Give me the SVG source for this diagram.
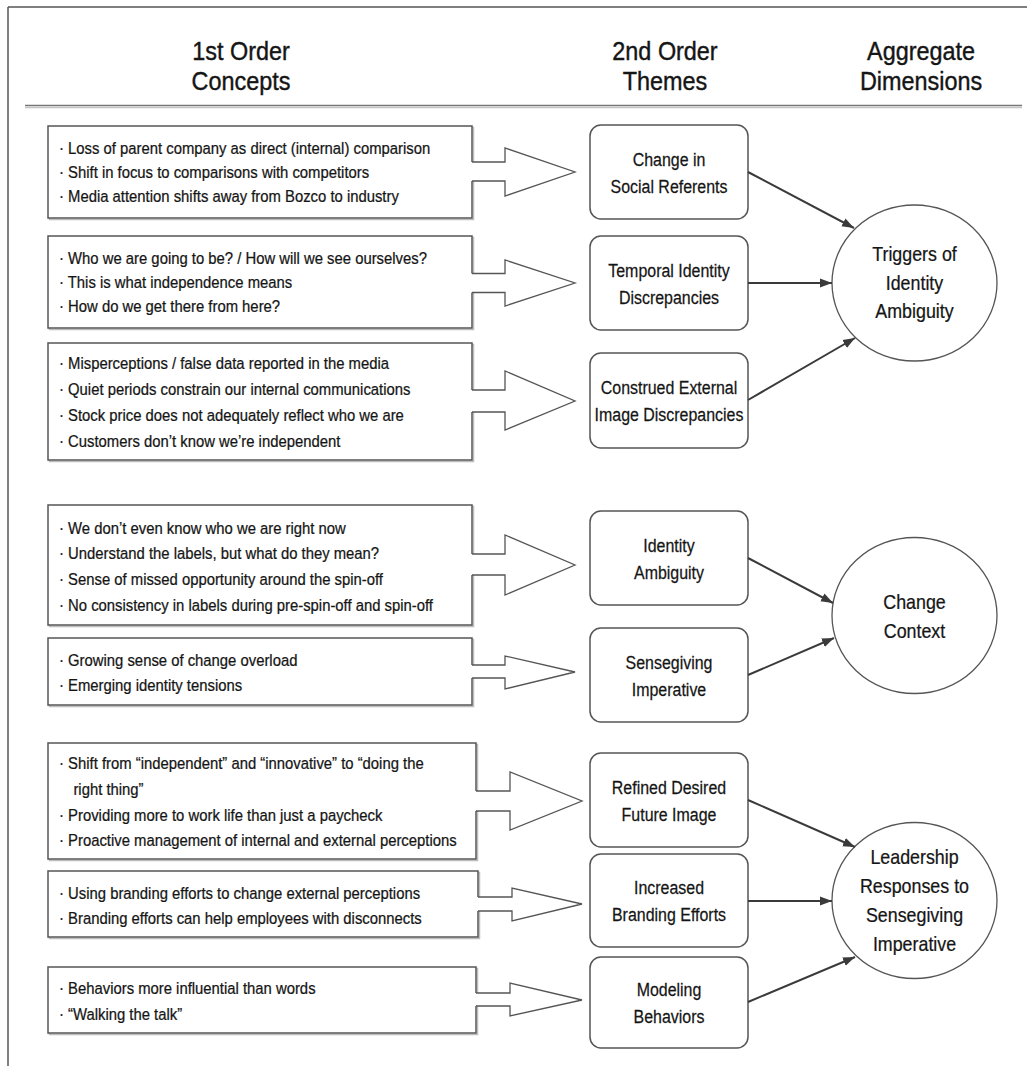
<svg xmlns="http://www.w3.org/2000/svg" width="1027" height="1066" viewBox="0 0 1027 1066">
<defs>
<style>
.frame{stroke:#555;stroke-width:1.5;fill:none}
.hsep{stroke:#777;stroke-width:1.5;fill:none}
.hsep2{stroke:#c4c4c4;stroke-width:1.5;fill:none}
.box{fill:#fff;stroke:#555;stroke-width:1.5}
.shd{fill:none;stroke:#bdbdbd;stroke-width:1.5}
.theme{fill:#fff;stroke:#555;stroke-width:1.5}
.ell{fill:#fff;stroke:#555;stroke-width:1.3}
.afill{fill:#fff;stroke:none}
.aline{fill:none;stroke:#555;stroke-width:1.3;stroke-linejoin:miter}
.cn{fill:none;stroke:#3a3a3a;stroke-width:2;marker-end:url(#ah)}
text{font-family:"Liberation Sans",Arial,sans-serif;fill:#151515;stroke:#151515;stroke-width:0.25}
.ht{font-size:26px;text-anchor:middle;stroke-width:0.4}
.bt{font-size:16.5px}
.tt{font-size:19px;text-anchor:middle}
.et{font-size:21px;text-anchor:middle}
</style>
<marker id="ah" viewBox="0 0 12 10" refX="12" refY="5" markerWidth="12" markerHeight="10" markerUnits="userSpaceOnUse" orient="auto">
<path d="M0,0.5 L12,5 L0,9.5 z" fill="#3a3a3a"/>
</marker>
</defs>
<rect width="1027" height="1066" fill="#fff"/>

<g id="frame">
<line class="frame" x1="8" y1="7" x2="1027" y2="7"/>
<line class="frame" x1="8" y1="7" x2="8" y2="1066"/>
<line class="hsep" x1="25" y1="105.5" x2="1022" y2="105.5"/>
<line class="hsep2" x1="25" y1="107.5" x2="1022" y2="107.5"/>
</g>

<g id="headers">
<text class="ht" transform="translate(241 0) scale(0.9 1)"><tspan x="0" y="60">1st Order</tspan><tspan x="0" y="90">Concepts</tspan></text>
<text class="ht" transform="translate(665 0) scale(0.9 1)"><tspan x="0" y="60">2nd Order</tspan><tspan x="0" y="90">Themes</tspan></text>
<text class="ht" transform="translate(921 0) scale(0.9 1)"><tspan x="0" y="60">Aggregate</tspan><tspan x="0" y="90">Dimensions</tspan></text>
</g>

<g id="concepts1">
<rect class="shd" x="49.5" y="127.5" width="424" height="92"/>
<rect class="box" x="48" y="126" width="424" height="92"/>
<text class="bt" transform="translate(59 0) scale(0.9 1)"><tspan x="0" y="154">· Loss of parent company as direct (internal) comparison</tspan><tspan x="0" y="178">· Shift in focus to comparisons with competitors</tspan><tspan x="0" y="202">· Media attention shifts away from Bozco to industry</tspan></text>
</g>
<g id="concepts2">
<rect class="shd" x="49.5" y="237.5" width="424" height="92"/>
<rect class="box" x="48" y="236" width="424" height="92"/>
<text class="bt" transform="translate(59 0) scale(0.9 1)"><tspan x="0" y="264">· Who we are going to be? / How will we see ourselves?</tspan><tspan x="0" y="288">· This is what independence means</tspan><tspan x="0" y="312">· How do we get there from here?</tspan></text>
</g>
<g id="concepts3">
<rect class="shd" x="49.5" y="344.5" width="424" height="117"/>
<rect class="box" x="48" y="343" width="424" height="117"/>
<text class="bt" transform="translate(59 0) scale(0.9 1)"><tspan x="0" y="369">· Misperceptions / false data reported in the media</tspan><tspan x="0" y="395">· Quiet periods constrain our internal communications</tspan><tspan x="0" y="421">· Stock price does not adequately reflect who we are</tspan><tspan x="0" y="447">· Customers don’t know we’re independent</tspan></text>
</g>
<g id="concepts4">
<rect class="shd" x="49.5" y="506.5" width="424" height="120"/>
<rect class="box" x="48" y="505" width="424" height="120"/>
<text class="bt" transform="translate(59 0) scale(0.9 1)"><tspan x="0" y="534">· We don’t even know who we are right now</tspan><tspan x="0" y="559">· Understand the labels, but what do they mean?</tspan><tspan x="0" y="585">· Sense of missed opportunity around the spin-off</tspan><tspan x="0" y="611">· No consistency in labels during pre-spin-off and spin-off</tspan></text>
</g>
<g id="concepts5">
<rect class="shd" x="49.5" y="639.5" width="424" height="67"/>
<rect class="box" x="48" y="638" width="424" height="67"/>
<text class="bt" transform="translate(59 0) scale(0.9 1)"><tspan x="0" y="666">· Growing sense of change overload</tspan><tspan x="0" y="691">· Emerging identity tensions</tspan></text>
</g>
<g id="concepts6">
<rect class="shd" x="49.5" y="744.5" width="428" height="116"/>
<rect class="box" x="48" y="743" width="428" height="116"/>
<text class="bt" transform="translate(59 0) scale(0.9 1)"><tspan x="0" y="769">· Shift from “independent” and “innovative” to “doing the</tspan><tspan x="16" y="795">right thing”</tspan><tspan x="0" y="821">· Providing more to work life than just a paycheck</tspan><tspan x="0" y="846">· Proactive management of internal and external perceptions</tspan></text>
</g>
<g id="concepts7">
<rect class="shd" x="49.5" y="872.5" width="430" height="66"/>
<rect class="box" x="48" y="871" width="430" height="66"/>
<text class="bt" transform="translate(59 0) scale(0.9 1)"><tspan x="0" y="899">· Using branding efforts to change external perceptions</tspan><tspan x="0" y="924">· Branding efforts can help employees with disconnects</tspan></text>
</g>
<g id="concepts8">
<rect class="shd" x="49.5" y="968.5" width="428" height="66"/>
<rect class="box" x="48" y="967" width="428" height="66"/>
<text class="bt" transform="translate(59 0) scale(0.9 1)"><tspan x="0" y="994">· Behaviors more influential than words</tspan><tspan x="0" y="1020">· “Walking the talk”</tspan></text>
</g>

<g id="theme1">
<rect class="theme" x="590" y="125" width="158" height="94" rx="11"/>
<text class="tt" transform="translate(669 0) scale(0.84 1)"><tspan x="0" y="166">Change in</tspan><tspan x="0" y="193">Social Referents</tspan></text>
</g>
<g id="theme2">
<rect class="theme" x="590" y="236" width="158" height="94" rx="11"/>
<text class="tt" transform="translate(669 0) scale(0.84 1)"><tspan x="0" y="277">Temporal Identity</tspan><tspan x="0" y="304">Discrepancies</tspan></text>
</g>
<g id="theme3">
<rect class="theme" x="590" y="353" width="158" height="95" rx="11"/>
<text class="tt" transform="translate(669 0) scale(0.84 1)"><tspan x="0" y="394">Construed External</tspan><tspan x="0" y="421">Image Discrepancies</tspan></text>
</g>
<g id="theme4">
<rect class="theme" x="590" y="511" width="158" height="94" rx="11"/>
<text class="tt" transform="translate(669 0) scale(0.84 1)"><tspan x="0" y="552">Identity</tspan><tspan x="0" y="579">Ambiguity</tspan></text>
</g>
<g id="theme5">
<rect class="theme" x="590" y="628" width="158" height="94" rx="11"/>
<text class="tt" transform="translate(669 0) scale(0.84 1)"><tspan x="0" y="669">Sensegiving</tspan><tspan x="0" y="696">Imperative</tspan></text>
</g>
<g id="theme6">
<rect class="theme" x="590" y="753" width="158" height="94" rx="11"/>
<text class="tt" transform="translate(669 0) scale(0.84 1)"><tspan x="0" y="794">Refined Desired</tspan><tspan x="0" y="821">Future Image</tspan></text>
</g>
<g id="theme7">
<rect class="theme" x="590" y="854" width="158" height="93" rx="11"/>
<text class="tt" transform="translate(669 0) scale(0.84 1)"><tspan x="0" y="894">Increased</tspan><tspan x="0" y="921">Branding Efforts</tspan></text>
</g>
<g id="theme8">
<rect class="theme" x="590" y="957" width="158" height="91" rx="11"/>
<text class="tt" transform="translate(669 0) scale(0.84 1)"><tspan x="0" y="996">Modeling</tspan><tspan x="0" y="1023">Behaviors</tspan></text>
</g>

<g id="dim1">
<ellipse class="ell" cx="914.5" cy="283" rx="82.5" ry="78"/>
<text class="et" transform="translate(914.5 0) scale(0.85 1)"><tspan x="0" y="261">Triggers of</tspan><tspan x="0" y="290">Identity</tspan><tspan x="0" y="318.5">Ambiguity</tspan></text>
</g>
<g id="dim2">
<ellipse class="ell" cx="914.5" cy="615.5" rx="82.5" ry="78"/>
<text class="et" transform="translate(914.5 0) scale(0.85 1)"><tspan x="0" y="609">Change</tspan><tspan x="0" y="638">Context</tspan></text>
</g>
<g id="dim3">
<ellipse class="ell" cx="914.5" cy="900.5" rx="82.5" ry="78"/>
<text class="et" transform="translate(914.5 0) scale(0.85 1)"><tspan x="0" y="864">Leadership</tspan><tspan x="0" y="893">Responses to</tspan><tspan x="0" y="922">Sensegiving</tspan><tspan x="0" y="951">Imperative</tspan></text>
</g>

<g id="connectors">
<polygon class="afill" points="470,162 505,162 505,148 575,172 505,196 505,181 470,181"/>
<polyline class="aline" points="472,162 505,162 505,148 575,172 505,196 505,181 472,181"/>
<polygon class="afill" points="470,273.5 505,273.5 505,260 575,283 505,306 505,292.5 470,292.5"/>
<polyline class="aline" points="472,273.5 505,273.5 505,260 575,283 505,306 505,292.5 472,292.5"/>
<polygon class="afill" points="470,390 505,390 505,371 575,401 505,430 505,412 470,412"/>
<polyline class="aline" points="472,390 505,390 505,371 575,401 505,430 505,412 472,412"/>
<polygon class="afill" points="470,554 505,554 505,535 575,565 505,595 505,575 470,575"/>
<polyline class="aline" points="472,554 505,554 505,535 575,565 505,595 505,575 472,575"/>
<polygon class="afill" points="470,665 505,665 505,656 575,672 505,689 505,678 470,678"/>
<polyline class="aline" points="472,665 505,665 505,656 575,672 505,689 505,678 472,678"/>
<polygon class="afill" points="474,791 510,791 510,772 582,801 510,830 510,811 474,811"/>
<polyline class="aline" points="476,791 510,791 510,772 582,801 510,830 510,811 476,811"/>
<polygon class="afill" points="476,897 512,897 512,888 582,904 512,921 512,911 476,911"/>
<polyline class="aline" points="478,897 512,897 512,888 582,904 512,921 512,911 478,911"/>
<polygon class="afill" points="474,993 510,993 510,983 582,1000 510,1016 510,1006 474,1006"/>
<polyline class="aline" points="476,993 510,993 510,983 582,1000 510,1016 510,1006 476,1006"/>

<line class="cn" x1="748" y1="172" x2="854" y2="228"/>
<line class="cn" x1="748" y1="283" x2="832" y2="283"/>
<line class="cn" x1="748" y1="400" x2="855" y2="338"/>
<line class="cn" x1="748" y1="558" x2="833" y2="603"/>
<line class="cn" x1="748" y1="675" x2="834" y2="638"/>
<line class="cn" x1="748" y1="800" x2="855" y2="847"/>
<line class="cn" x1="748" y1="901" x2="832" y2="901"/>
<line class="cn" x1="748" y1="1002" x2="855" y2="957"/>
</g>
</svg>
